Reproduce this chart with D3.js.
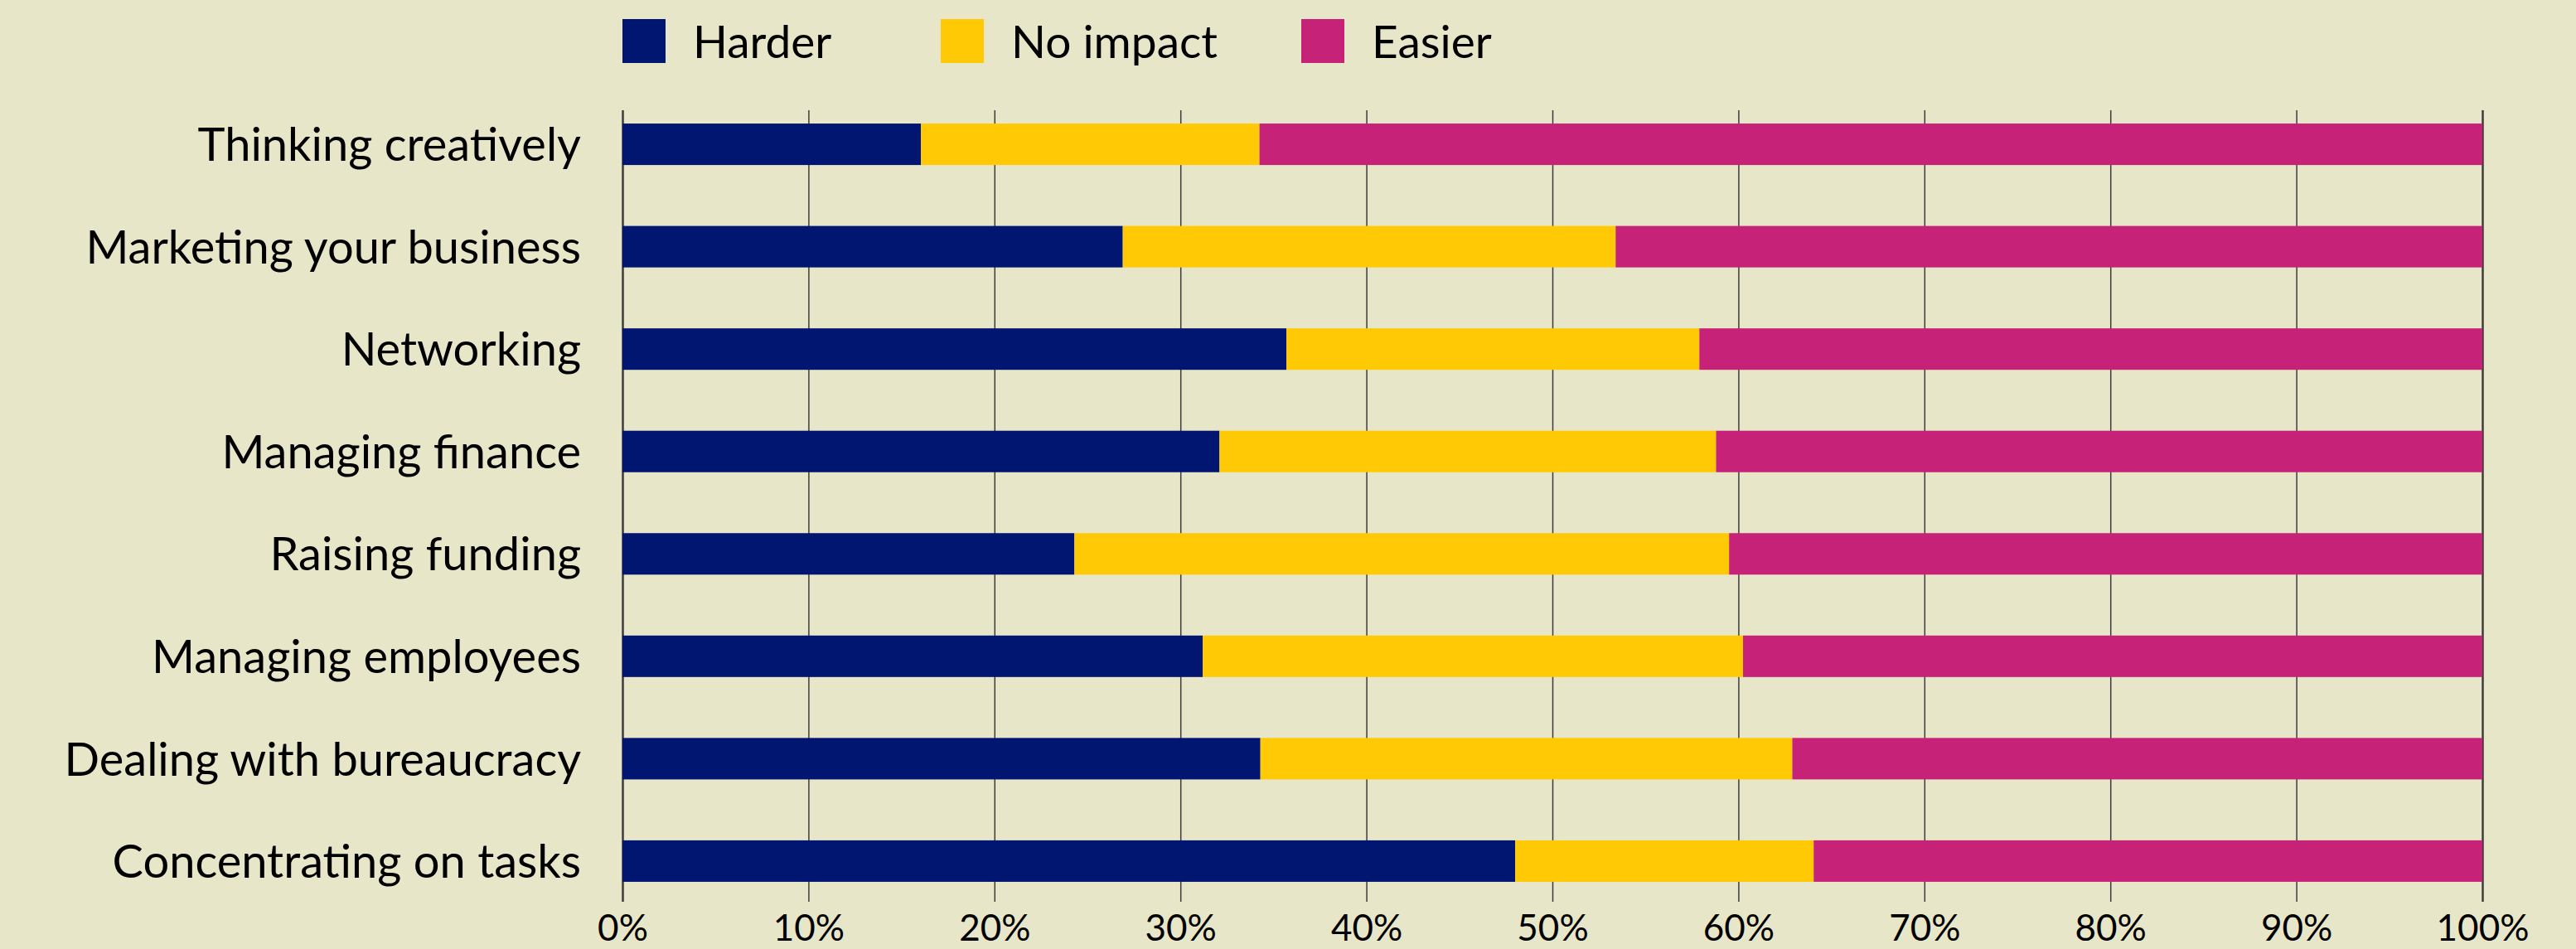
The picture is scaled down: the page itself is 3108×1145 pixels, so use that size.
<!DOCTYPE html>
<html>
<head>
<meta charset="utf-8">
<script src="https://cdn.jsdelivr.net/npm/d3@7"></script>
<style>
  html, body { margin: 0; padding: 0; background: #e8e6c8; }
  svg { display: block; font-family: Lato, "Open Sans", sans-serif; }
</style>
</head>
<body>
<div id="chart"></div>
<script>
// Data (percent of respondents)
const categories = [
  "Thinking creatively",
  "Marketing your business",
  "Networking",
  "Managing finance",
  "Raising funding",
  "Managing employees",
  "Dealing with bureaucracy",
  "Concentrating on tasks"
];
const seriesNames = ["Harder", "No impact", "Easier"];
const harder = [16.05, 26.9, 35.7, 32.1, 24.3, 31.2, 34.3, 48.0];
const noImpact = [18.2, 26.5, 22.2, 26.7, 35.2, 29.05, 28.6, 16.05];
const easier = [65.75, 46.6, 42.1, 41.2, 40.5, 39.75, 37.1, 35.95];
const xTicks = [0, 10, 20, 30, 40, 50, 60, 70, 80, 90, 100];

const colors = ["#001670", "#ffc905", "#c62278"];

const width = 3108, height = 1145;
const margin = { top: 112, right: 113, bottom: 44, left: 751 };

const rows = categories.map((c, i) => ({
  category: c,
  "Harder": harder[i],
  "No impact": noImpact[i],
  "Easier": easier[i]
}));

const svg = d3.select("#chart")
  .append("svg")
  .attr("width", width)
  .attr("height", height);

svg.append("rect")
  .attr("width", width)
  .attr("height", height)
  .attr("fill", "#e8e6c8");

// Scales
const x = d3.scaleLinear().domain([0, 100]).range([margin.left, width - margin.right]);
const y = d3.scaleBand()
  .domain(categories)
  .range([margin.top, height - margin.bottom])
  .paddingInner(0.595)
  .paddingOuter(0.3);

const gridTop = 133, gridBottom = 1088;

// Grid lines + tick labels
const xAxis = svg.append("g")
  .attr("transform", `translate(0, ${gridBottom})`)
  .call(d3.axisBottom(x)
    .tickValues(xTicks)
    .tickFormat(d => d + "%")
    .tickSize(-(gridBottom - gridTop))
    .tickPadding(16));

xAxis.select(".domain").remove();
xAxis.selectAll(".tick line")
  .attr("stroke", "#3c3c3c")
  .attr("stroke-width", d => (d === 0 || d === 100) ? 2.5 : 1.5);
xAxis.selectAll(".tick text")
  .attr("fill", "#000")
  .attr("font-size", 44)
  .attr("font-family", "Lato, sans-serif");

// Stacked bars
const stack = d3.stack().keys(seriesNames);
const stacked = stack(rows);

svg.append("g")
  .selectAll("g")
  .data(stacked)
  .join("g")
  .attr("fill", (d, i) => colors[i])
  .selectAll("rect")
  .data(d => d)
  .join("rect")
  .attr("x", d => x(d[0]))
  .attr("y", d => y(d.data.category))
  .attr("width", d => x(d[1]) - x(d[0]))
  .attr("height", y.bandwidth());

// Category labels
svg.append("g")
  .selectAll("text")
  .data(categories)
  .join("text")
  .attr("x", margin.left - 50)
  .attr("y", d => y(d) + y.bandwidth() / 2)
  .attr("dy", "0.36em")
  .attr("text-anchor", "end")
  .attr("font-size", 56)
  .attr("fill", "#000")
  .text(d => d);

// Legend
const legendX = [751, 1135, 1570];
const legend = svg.append("g")
  .selectAll("g")
  .data(seriesNames)
  .join("g")
  .attr("transform", (d, i) => `translate(${legendX[i]}, 23)`);

legend.append("rect")
  .attr("width", 52)
  .attr("height", 53)
  .attr("fill", (d, i) => colors[i]);

legend.append("text")
  .attr("x", 85)
  .attr("y", 47)
  .attr("font-size", 55)
  .attr("fill", "#000")
  .text(d => d);
</script>
</body>
</html>
